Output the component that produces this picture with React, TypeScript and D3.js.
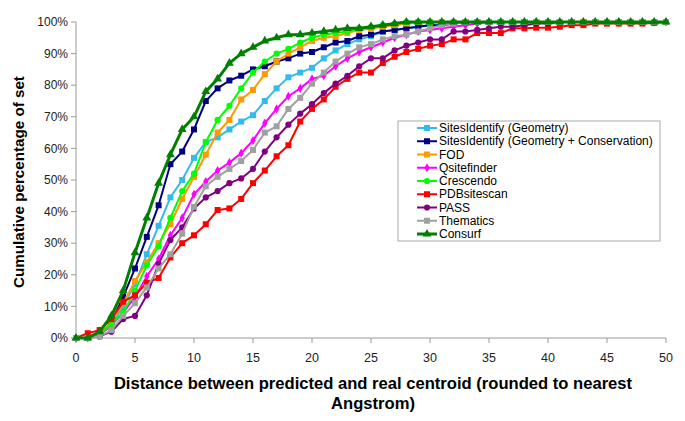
import React from 'react';
import * as d3 from 'd3';

// distance (Angstrom) categories on the x axis
const distances = [0, 1, 2, 3, 4, 5, 6, 7, 8, 9, 10, 11, 12, 13, 14, 15, 16, 17, 18, 19, 20, 21, 22, 23, 24, 25,
  26, 27, 28, 29, 30, 31, 32, 33, 34, 35, 36, 37, 38, 39, 40, 41, 42, 43, 44, 45, 46, 47, 48, 49, 50];
const xTicks = [0, 5, 10, 15, 20, 25, 30, 35, 40, 45, 50];
const yTicks = [0, 10, 20, 30, 40, 50, 60, 70, 80, 90, 100];

// cumulative percentage per method
const sitesGeometry = [0, 0, 1, 4, 10, 17, 26.5, 35.5, 44.5, 50, 57, 62, 63.5, 66, 68.5, 70.5, 75, 79, 82.5, 84, 85.5,
  88.5, 91, 93, 94.5, 95.5, 97, 97.5, 98, 98.5, 99, 99, 99.5, 100, 100, 100, 100, 100, 100, 100, 100, 100, 100, 100,
  100, 100, 100, 100, 100, 100, 100];
const sitesGeoCons = [0, 0, 1, 5, 13, 22, 32, 42, 55, 59, 66, 75, 79, 81.5, 83, 85, 86, 87.5, 88.5, 90, 90.5, 92, 93.5,
  94, 95.5, 96, 97, 97.5, 98, 98.5, 99, 99, 99.5, 100, 100, 100, 100, 100, 100, 100, 100, 100, 100, 100, 100, 100,
  100, 100, 100, 100, 100];
const fod = [0, 0, 1, 5, 11, 18, 24, 30, 36, 44, 51, 58, 65, 69, 75.5, 78.5, 83.5, 87.5, 90, 92, 94, 95, 95.5, 96.5,
  97.5, 98, 98.5, 99, 99.5, 100, 100, 100, 100, 100, 100, 100, 100, 100, 100, 100, 100, 100, 100, 100, 100, 100, 100,
  100, 100, 100, 100];
const qsitefinder = [0, 0, 1, 4, 8, 13, 19.5, 25, 32.5, 38, 45.5, 49.5, 53, 55.5, 58.5, 62.5, 68, 72.5, 76.5, 79, 82,
  83, 86, 88.5, 90.5, 92, 93.5, 95, 96, 97, 97.5, 98, 98.5, 99, 99.5, 100, 100, 100, 100, 100, 100, 100, 100, 100,
  100, 100, 100, 100, 100, 100, 100];
const crescendo = [0, 0, 1, 4.5, 8, 15, 23, 29, 38, 46.5, 52, 62, 69, 73.5, 79, 84, 87.5, 90, 91.5, 93.5, 95, 96, 96.5,
  97, 98, 98.5, 99, 99.5, 100, 100, 100, 100, 100, 100, 100, 100, 100, 100, 100, 100, 100, 100, 100, 100, 100, 100,
  100, 100, 100, 100, 100];
const pdbSitescan = [0, 1.5, 2.5, 6, 11.5, 13.5, 17.5, 19, 25.5, 30, 32.5, 36, 40.5, 41, 44, 49, 53, 57.5, 61, 68.5,
  72.5, 75.5, 79.5, 82, 84, 84, 87, 89, 90.5, 91.5, 92.5, 93, 94.5, 94.5, 96.5, 96.5, 96.5, 98, 98, 98.2, 98.2, 98.5,
  99, 99, 99.5, 99.5, 99.5, 99.5, 99.5, 99.7, 100];
const pass = [0, 0, 0.5, 2, 6, 7, 13.5, 23.5, 31, 35, 41, 44.5, 46.5, 49, 50.5, 53.5, 59, 63.5, 67.5, 71, 74, 77.5,
  80.5, 83, 86, 88.5, 88.5, 91, 92.5, 93.5, 94.5, 94.5, 97, 97, 97.5, 98, 98.5, 98.5, 99, 99.5, 99.5, 100, 100, 100,
  100, 100, 100, 100, 100, 100, 100];
const thematics = [0, 0, 0.5, 2.5, 7, 11, 16, 22, 26.5, 33, 41.5, 48, 51, 53.5, 56, 59.5, 65, 67, 72.5, 76, 80.5, 84,
  87.5, 90, 92, 93, 94.5, 95.5, 96, 97, 98, 99, 99.5, 100, 100, 100, 100, 100, 100, 100, 100, 100, 100, 100, 100, 100,
  100, 100, 100, 100, 100];
const consurf = [0, 0, 2, 7, 15, 27, 38, 49, 58, 66, 70, 78, 82, 87, 90, 92, 94, 95, 96, 96, 96.5, 97, 97.5, 98, 98,
  98.5, 99, 99.5, 100, 100, 100, 100, 100, 100, 100, 100, 100, 100, 100, 100, 100, 100, 100, 100, 100, 100, 100, 100,
  100, 100, 100];

type Series = { name: string; color: string; symbol: d3.SymbolType; size: number; width: number; values: number[] };

const series: Series[] = [
  { name: 'SitesIdentify (Geometry)', color: '#33bbee', symbol: d3.symbolSquare, size: 36, width: 2, values: sitesGeometry },
  { name: 'SitesIdentify (Geometry + Conservation)', color: '#000080', symbol: d3.symbolSquare, size: 36, width: 2, values: sitesGeoCons },
  { name: 'FOD', color: '#ff9900', symbol: d3.symbolSquare, size: 36, width: 2, values: fod },
  { name: 'Qsitefinder', color: '#ff00ff', symbol: d3.symbolDiamond, size: 24, width: 2, values: qsitefinder },
  { name: 'Crescendo', color: '#00ff00', symbol: d3.symbolCircle, size: 30, width: 2, values: crescendo },
  { name: 'PDBsitescan', color: '#ff0000', symbol: d3.symbolSquare, size: 36, width: 2, values: pdbSitescan },
  { name: 'PASS', color: '#800080', symbol: d3.symbolCircle, size: 30, width: 2, values: pass },
  { name: 'Thematics', color: '#a0a0a0', symbol: d3.symbolSquare, size: 36, width: 2, values: thematics },
  { name: 'Consurf', color: '#008000', symbol: d3.symbolTriangle, size: 34, width: 3, values: consurf },
];

const W = 685;
const H = 421;
const font = '"Liberation Sans", Arial, sans-serif';

export default function App() {
  const x = d3.scaleLinear().domain([0, 50]).range([76, 666]);
  const y = d3.scaleLinear().domain([0, 100]).range([338, 22]);
  const line = d3.line<number>().x((_, i) => x(distances[i])).y(d => y(d));

  const legendX = 398;
  const legendY = 121;
  const rowH = 13.25;

  return (
    <div style={{ position: 'absolute', left: 0, top: 0 }}>
      <svg width={W} height={H} style={{ display: 'block', background: '#fff', fontFamily: font }}>
        {/* axes */}
        <line x1={x(0)} x2={x(0)} y1={y(0)} y2={y(100)} stroke="#999" />
        <line x1={x(0)} x2={x(50)} y1={y(0)} y2={y(0)} stroke="#999" />
        {yTicks.map(t => (
          <g key={'y' + t}>
            <line x1={x(0) - 5} x2={x(0)} y1={y(t)} y2={y(t)} stroke="#999" />
            <text x={x(0) - 8} y={y(t)} dy="0.35em" textAnchor="end" fontSize={12} fill="#222">{t}%</text>
          </g>
        ))}
        {xTicks.map(t => (
          <g key={'x' + t}>
            <line x1={x(t)} x2={x(t)} y1={y(0)} y2={y(0) + 5} stroke="#999" />
            <text x={x(t)} y={362} textAnchor="middle" fontSize={12.5} fill="#222">{t}</text>
          </g>
        ))}

        {/* series */}
        {series.map(s => (
          <g key={s.name}>
            <path d={line(s.values) ?? ''} fill="none" stroke={s.color} strokeWidth={s.width} strokeLinejoin="round" />
            {s.values.map((v, i) => (
              <path key={i} transform={`translate(${x(distances[i])},${y(v)})`}
                d={d3.symbol().type(s.symbol).size(s.size)() ?? ''} fill={s.color} />
            ))}
          </g>
        ))}

        {/* legend */}
        <rect x={legendX} y={legendY} width={262} height={120} fill="#fff" stroke="#aaa" />
        {series.map((s, i) => {
          const cy = legendY + 7 + i * rowH;
          return (
            <g key={'l' + s.name}>
              <line x1={legendX + 19} x2={legendX + 39} y1={cy} y2={cy} stroke={s.color} strokeWidth={s.width} />
              <path transform={`translate(${legendX + 29},${cy})`} d={d3.symbol().type(s.symbol).size(s.size)() ?? ''} fill={s.color} />
              <text x={legendX + 41} y={cy} dy="0.35em" fontSize={12} fill="#000">{s.name}</text>
            </g>
          );
        })}

        {/* titles */}
        <text transform="translate(24,182) rotate(-90)" textAnchor="middle" fontSize={15.2} fontWeight="bold" fill="#000">
          Cumulative percentage of set
        </text>
        <text x={373} y={389} textAnchor="middle" fontSize={16.6} fontWeight="bold" fill="#000">
          Distance between predicted and real centroid (rounded to nearest
        </text>
        <text x={373} y={409} textAnchor="middle" fontSize={16.6} fontWeight="bold" fill="#000">
          Angstrom)
        </text>
      </svg>
    </div>
  );
}
